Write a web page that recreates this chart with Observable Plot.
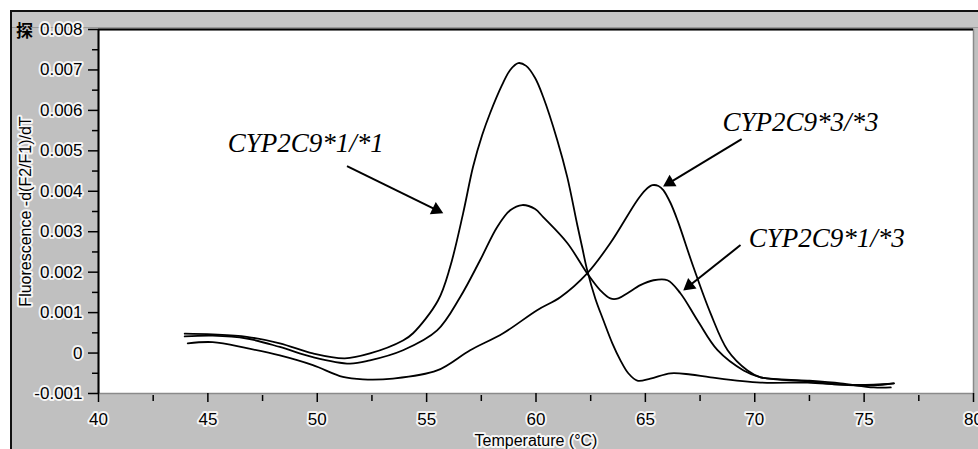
<!DOCTYPE html>
<html>
<head>
<meta charset="utf-8">
<script src="https://cdn.jsdelivr.net/npm/d3@7"></script>
<script src="https://cdn.jsdelivr.net/npm/@observablehq/plot@0.6"></script>
<style>
  html, body { margin: 0; padding: 0; background: #fff; }
  #wrap { position: relative; width: 978px; height: 449px; overflow: hidden; }
  #bg { position: absolute; left: 10px; top: 10px; right: 0; bottom: 0; background: #c0c0c0;
        border-left: 2px solid #111; border-top: 2px solid #111; }
  #band { position: absolute; left: 12px; top: 12px; right: 0; height: 15px; background: #c6c6c6;
          border-bottom: 1px solid #9a9a9a; }
  #chart { position: absolute; left: 0; top: 0; }
  #chart svg g[aria-label$="tick label"] text,
  #chart svg text.halo, #chart svg .halo text {
    paint-order: stroke; stroke: #fff; stroke-width: 4px; stroke-opacity: 0.85; stroke-linejoin: round;
  }
</style>
</head>
<body>
<div id="wrap"><div id="bg"></div><div id="band"></div><div id="chart"></div></div>
<script>
// ---- data ----
const tempA = [43.94,45.22,46.78,48.29,49.80,51.26,52.41,53.92,54.38,55.52,56.07,56.67,57.12,57.54,57.90,58.45,58.82,59.19,59.55,59.96,60.33,60.97,61.43,61.89,62.12,62.34,62.71,63.08,63.49,63.86,64.22,64.63,65.23,66.15,67.06,67.98,70.27,72.42,73.93,75.44,76.36];
const valA  = [0.00048,0.00046,0.00040,0.00024,-0.00001,-0.00013,-0.00001,0.00031,0.00049,0.00130,0.00212,0.00346,0.00460,0.00539,0.00593,0.00663,0.00700,0.00717,0.00710,0.00680,0.00633,0.00527,0.00435,0.00316,0.00259,0.00205,0.00135,0.00081,0.00024,-0.00018,-0.00050,-0.00068,-0.00063,-0.00050,-0.00053,-0.00060,-0.00073,-0.00073,-0.00078,-0.00078,-0.00075];

const tempB = [43.94,45.22,46.78,48.29,49.80,51.49,52.41,53.92,55.48,56.53,57.45,58.22,58.82,59.37,59.96,60.33,61.43,62.34,62.94,63.40,63.76,64.18,64.77,65.37,66.01,66.60,67.38,68.30,69.49,70.27,72.42,73.93,75.44,76.22];
const valB  = [0.00041,0.00043,0.00036,0.00015,-0.00010,-0.00026,-0.00018,0.00007,0.00056,0.00138,0.00230,0.00311,0.00353,0.00366,0.00356,0.00336,0.00272,0.00197,0.00155,0.00135,0.00135,0.00148,0.00168,0.00180,0.00180,0.00148,0.00081,0.00007,-0.00043,-0.00060,-0.00068,-0.00075,-0.00085,-0.00085];

const tempC = [44.08,45.22,46.78,48.29,49.80,51.17,52.09,53.46,55.48,56.99,58.50,60.05,61.11,62.34,63.40,64.63,65.00,65.32,65.60,65.82,66.15,66.47,67.20,67.98,68.76,69.67,70.27,72.42,73.93,75.44,76.36];
const valC  = [0.00024,0.00027,0.00012,-0.00006,-0.00030,-0.00059,-0.00065,-0.00063,-0.00043,0.00007,0.00049,0.00106,0.00138,0.00197,0.00272,0.00378,0.00403,0.00415,0.00413,0.00403,0.00371,0.00328,0.00212,0.00098,0.00007,-0.00043,-0.00060,-0.00070,-0.00078,-0.00080,-0.00075];

const seriesNames = ["A","B","C"];

const labelText = ["CYP2C9*1/*1", "CYP2C9*3/*3", "CYP2C9*1/*3"];
const labelT    = [45.91, 68.53, 69.72];
const labelV    = [0.00519, 0.00571, 0.00284];

const arrowT1 = [51.36, 69.40, 69.35];
const arrowV1 = [0.00462, 0.00529, 0.00267];
const arrowT2 = [55.75, 65.82, 66.74];
const arrowV2 = [0.00346, 0.00412, 0.00155];

const xTicks = [40,45,50,55,60,65,70,75,80];
const xTickLabels = ["40","45","50","55","60","65","70","75","80"];
const xMinor = [42.5,47.5,52.5,57.5,62.5,67.5,72.5,77.5];
const yTicks = [-0.001,0,0.001,0.002,0.003,0.004,0.005,0.006,0.007,0.008];
const yTickLabels = ["-0.001","0","0.001","0.002","0.003","0.004","0.005","0.006","0.007","0.008"];
const yMinor = [-0.0005,0.0005,0.0015,0.0025,0.0035,0.0045,0.0055,0.0065,0.0075];

const xLabel = "Temperature (°C)";
const yLabel = "Fluorescence -d(F2/F1)/dT";
const cornerGlyph = "探";

// ---- build tables ----
const curves = [];
[[tempA,valA],[tempB,valB],[tempC,valC]].forEach(([ts,vs],k) => {
  ts.forEach((t,i) => curves.push({s: seriesNames[k], T: t, v: vs[i]}));
});
const labels = labelText.map((t,i) => ({text: t, T: labelT[i], v: labelV[i]}));

const halo = {textStroke: "white", textStrokeWidth: 4, textStrokeOpacity: 0.85};

function build(arrowMarks) {
  return Plot.plot({
    width: 978, height: 449,
    marginLeft: 98, marginRight: 5, marginTop: 29, marginBottom: 56,
    x: {domain: [40, 80]},
    y: {domain: [-0.001, 0.008]},
    style: {background: "transparent", fontFamily: "'Liberation Sans', Arial, sans-serif", overflow: "visible"},
    marks: [
      Plot.frame({fill: "white", stroke: "#8a8a8a", strokeWidth: 1.5}),
      Plot.ruleY([0.008], {stroke: "#000", strokeWidth: 2}),
      Plot.axisX({ticks: xMinor, tickSize: 6, tickFormat: () => "", label: null, stroke: "#000", strokeWidth: 1.5, dy: 2}),
      Plot.axisX({ticks: xTicks, tickSize: 9, tickPadding: 10, tickFormat: d => xTickLabels[xTicks.indexOf(d)], label: null, fontSize: 17, stroke: "#000", strokeWidth: 1.5, fill: "#000", ...halo}),
      Plot.axisY({ticks: yMinor, tickSize: 6, tickFormat: () => "", label: null, stroke: "#000", strokeWidth: 1.5}),
      Plot.axisY({ticks: yTicks, tickSize: 10, tickPadding: 6, tickFormat: d => yTickLabels[yTicks.findIndex(t => Math.abs(t - d) < 1e-9)], label: null, fontSize: 17, stroke: "#000", strokeWidth: 1.5, fill: "#000", ...halo}),
      Plot.ruleX([40], {stroke: "#000", strokeWidth: 2}),
      Plot.line(curves, {x: "T", y: "v", z: "s", curve: "catmull-rom", stroke: "#000", strokeWidth: 1.8}),
      Plot.text(labels, {x: "T", y: "v", text: "text", textAnchor: "start", fontFamily: "'Liberation Serif', 'Times New Roman', serif", fontStyle: "italic", fontSize: 27, fill: "#000"}),
      ...arrowMarks,
      Plot.text([xLabel], {frameAnchor: "bottom", dy: 47, lineAnchor: "middle", textAnchor: "middle", fontSize: 16, fill: "#000", className: "halo"}),
      Plot.text([yLabel], {frameAnchor: "left", dx: -73, rotate: -90, textAnchor: "middle", lineAnchor: "middle", fontSize: 16, fill: "#000", className: "halo"}),
      Plot.text([cornerGlyph], {frameAnchor: "top-left", dx: -74, dy: 2, textAnchor: "middle", lineAnchor: "middle", fontSize: 17, fontWeight: "bold", fontFamily: "'Noto Sans CJK SC', sans-serif", fill: "#000"})
    ]
  });
}

// first pass to get the scales for arrowhead orientation
const p0 = build([]);
const sx = p0.scale("x"), sy = p0.scale("y");
const headR = 5;
const arrows = arrowT1.map((t1,i) => {
  const px1 = sx.apply(t1), py1 = sy.apply(arrowV1[i]);
  const px2 = sx.apply(arrowT2[i]), py2 = sy.apply(arrowV2[i]);
  const dx = px2 - px1, dy = py2 - py1, len = Math.hypot(dx, dy);
  const ux = dx / len, uy = dy / len;
  const back = 7.5;
  const cx = px2 - ux * back, cy = py2 - uy * back;
  return {
    T1: t1, V1: arrowV1[i],
    T2: sx.invert(cx), V2: sy.invert(cy),
    rot: Math.atan2(dx, -dy) * 180 / Math.PI
  };
});
const arrowMarks = [
  Plot.link(arrows, {x1: "T1", y1: "V1", x2: "T2", y2: "V2", stroke: "#000", strokeWidth: 2}),
  Plot.dot(arrows, {x: "T2", y: "V2", symbol: "triangle", r: headR, rotate: "rot", fill: "#000", stroke: "none"})
];
const chart = build(arrowMarks);
document.getElementById("chart").appendChild(chart);
</script>
</body>
</html>
